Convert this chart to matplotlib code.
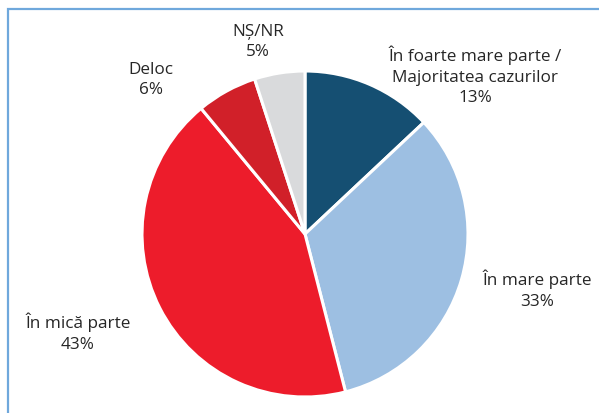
import matplotlib
matplotlib.use('Agg')
from matplotlib import pyplot as plt
from matplotlib.patches import Rectangle

# Date
categorii = ['În foarte mare parte /\nMajoritatea cazurilor', 'În mare parte', 'În mică parte', 'Deloc', 'NȘ/NR']
procente = [13, 33, 43, 6, 5]
culori = ['#154f72', '#9dbfe2', '#ed1c2b', '#d12029', '#d9dadc']

# Pozitii etichete (pixeli, origine stanga-sus)
pozitii = [(475, 76), (537, 290), (78, 333), (151, 80), (258, 42)]

W, H = 599, 413
fig = plt.figure(figsize=(W / 100, H / 100), dpi=100)
ax = fig.add_axes([0, 0, 1, 1])

# Cadru albastru deschis
fig.patches.append(Rectangle((7.5 / W, -0.1), 1.2, (H - 8.5) / H + 0.1, transform=fig.transFigure,
                             fill=False, edgecolor='#6fa8dc', linewidth=1.6))

ax.pie(procente, colors=culori, startangle=90, counterclock=False,
       center=(305, H - 234), radius=163,
       wedgeprops=dict(edgecolor='white', linewidth=2.2))
ax.set_xlim(0, W)
ax.set_ylim(0, H)
ax.set_aspect('equal')
ax.axis('off')

for cat, p, (x, y) in zip(categorii, procente, pozitii):
    ax.text(x, H - y, f'{cat}\n{p}%', ha='center', va='center', fontsize=12.3,
            family='Open Sans', color='#262626', linespacing=1.38)

fig.savefig('out.png', dpi=100)
